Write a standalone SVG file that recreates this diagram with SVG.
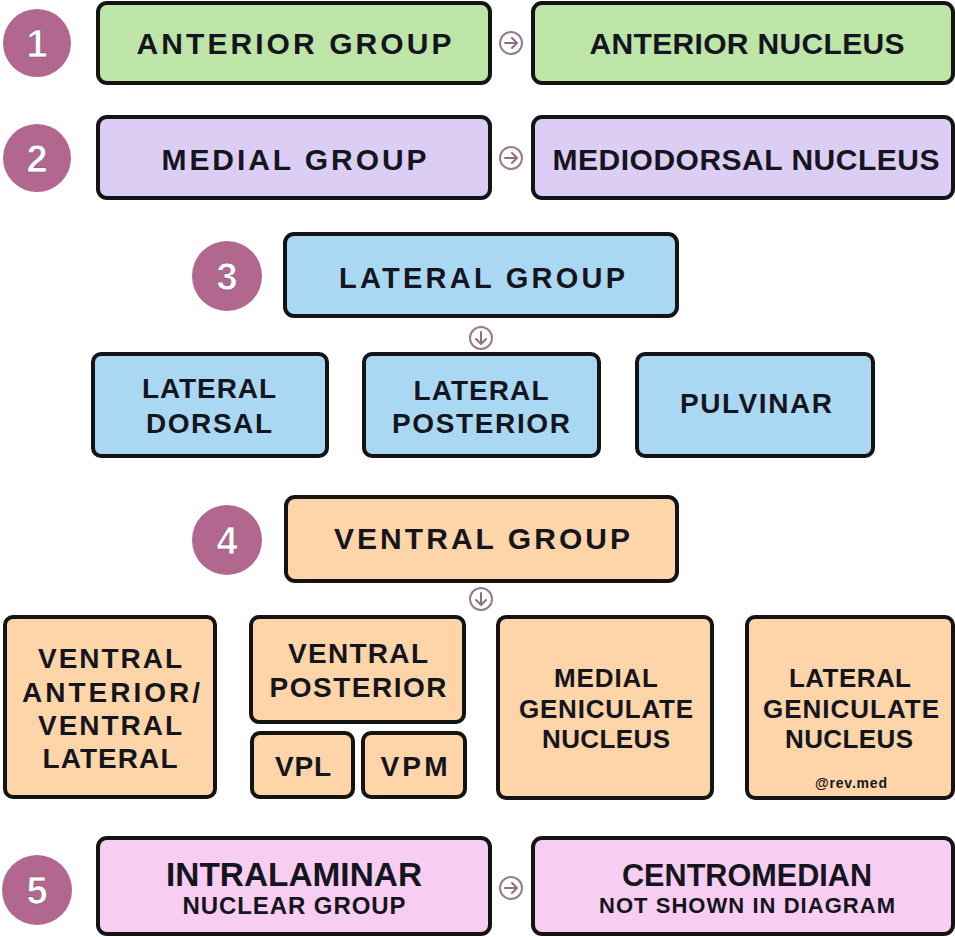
<svg xmlns="http://www.w3.org/2000/svg" width="955" height="937" viewBox="0 0 955 937">
<defs>
<style>
.box{stroke:#141414;stroke-width:4;}
.g{fill:#bde5a8}.p{fill:#dccdf5}.b{fill:#aad8f3}.o{fill:#fdd5a8}.k{fill:#f8cdf2}
.t{font-family:"Liberation Sans",Arial,sans-serif;font-weight:bold;fill:#151520;text-anchor:middle;}
.num{fill:#b2678f;}
.nt{font-family:"Liberation Sans",Arial,sans-serif;font-weight:bold;fill:#ffffff;text-anchor:middle;font-size:38px;stroke:#8a4a6c;stroke-width:0.6;}
.ic{fill:none;stroke:#9c7a8e;stroke-width:2;}
.ia{fill:none;stroke:#8e6e82;stroke-width:2;stroke-linecap:round;stroke-linejoin:round;}
</style>
</defs>
<rect width="955" height="937" fill="#ffffff"/>

<g id="num1"><circle class="num" cx="37" cy="43" r="34"/><text class="nt" x="37" y="57">1</text></g>
<g id="num2"><circle class="num" cx="37" cy="158" r="34"/><text class="nt" x="37" y="172">2</text></g>
<g id="num3"><circle class="num" cx="227" cy="276" r="35"/><text class="nt" x="227" y="290">3</text></g>
<g id="num4"><circle class="num" cx="227" cy="540" r="35"/><text class="nt" x="227" y="554">4</text></g>
<g id="num5"><circle class="num" cx="37" cy="890" r="35"/><text class="nt" x="37" y="904">5</text></g>

<g id="anterior-group"><rect class="box g" x="98" y="3" width="392" height="80" rx="9"/><text class="t" x="294" y="54" font-size="30" textLength="315">ANTERIOR GROUP</text></g>
<g id="anterior-nucleus"><rect class="box g" x="533" y="3" width="420" height="80" rx="9"/><text class="t" x="747" y="54" font-size="30" textLength="315">ANTERIOR NUCLEUS</text></g>

<g id="medial-group"><rect class="box p" x="98" y="117" width="392" height="81" rx="9"/><text class="t" x="294" y="170" font-size="30" textLength="265">MEDIAL GROUP</text></g>
<g id="mediodorsal-nucleus"><rect class="box p" x="533" y="117" width="420" height="81" rx="9"/><text class="t" x="746" y="170" font-size="30" textLength="387">MEDIODORSAL NUCLEUS</text></g>

<g id="lateral-group"><rect class="box b" x="285" y="234" width="392" height="82" rx="9"/><text class="t" x="482" y="288" font-size="29" textLength="286">LATERAL GROUP</text></g>
<g id="lateral-dorsal"><rect class="box b" x="93" y="354" width="234" height="102" rx="8"/>
<text class="t" x="209" y="398" font-size="28" textLength="134">LATERAL</text>
<text class="t" x="209" y="433" font-size="28" textLength="126">DORSAL</text></g>
<g id="lateral-posterior"><rect class="box b" x="364" y="354" width="235" height="102" rx="8"/>
<text class="t" x="481" y="400" font-size="28" textLength="135">LATERAL</text>
<text class="t" x="481" y="433" font-size="28" textLength="178">POSTERIOR</text></g>
<g id="pulvinar"><rect class="box b" x="637" y="354" width="236" height="102" rx="8"/>
<text class="t" x="756" y="413" font-size="28" textLength="152">PULVINAR</text></g>

<g id="ventral-group"><rect class="box o" x="286" y="497" width="391" height="84" rx="9"/><text class="t" x="482" y="549" font-size="30" textLength="296">VENTRAL GROUP</text></g>
<g id="va-vl"><rect class="box o" x="5" y="617" width="210" height="180" rx="8"/>
<text class="t" x="110" y="668" font-size="28" textLength="144">VENTRAL</text>
<text class="t" x="111" y="702" font-size="28" textLength="178">ANTERIOR/</text>
<text class="t" x="110" y="735" font-size="28" textLength="144">VENTRAL</text>
<text class="t" x="110" y="768" font-size="28" textLength="135">LATERAL</text></g>
<g id="ventral-posterior"><rect class="box o" x="251" y="617" width="213" height="105" rx="8"/>
<text class="t" x="358" y="663" font-size="28" textLength="140">VENTRAL</text>
<text class="t" x="358" y="697" font-size="28" textLength="177">POSTERIOR</text></g>
<g id="vpl"><rect class="box o" x="252" y="733" width="101" height="64" rx="8"/><text class="t" x="303" y="776" font-size="28" textLength="56">VPL</text></g>
<g id="vpm"><rect class="box o" x="363" y="733" width="102" height="64" rx="8"/><text class="t" x="414" y="776" font-size="28" textLength="67">VPM</text></g>
<g id="medial-geniculate"><rect class="box o" x="498" y="617" width="214" height="181" rx="8"/>
<text class="t" x="606" y="687" font-size="26" textLength="104">MEDIAL</text>
<text class="t" x="606" y="718" font-size="26" textLength="174">GENICULATE</text>
<text class="t" x="606" y="748" font-size="26" textLength="128">NUCLEUS</text></g>
<g id="lateral-geniculate"><rect class="box o" x="747" y="617" width="206" height="181" rx="8"/>
<text class="t" x="850" y="687" font-size="26" textLength="122">LATERAL</text>
<text class="t" x="851" y="718" font-size="26" textLength="176">GENICULATE</text>
<text class="t" x="849" y="748" font-size="26" textLength="128">NUCLEUS</text>
<text class="t" x="851" y="788" font-size="14" textLength="72">@rev.med</text></g>

<g id="intralaminar"><rect class="box k" x="98" y="838" width="392" height="96" rx="9"/>
<text class="t" x="294" y="886" font-size="33" textLength="256" lengthAdjust="spacingAndGlyphs">INTRALAMINAR</text>
<text class="t" x="294" y="914" font-size="24" textLength="223">NUCLEAR GROUP</text></g>
<g id="centromedian"><rect class="box k" x="533" y="838" width="420" height="96" rx="9"/>
<text class="t" x="747" y="886" font-size="31" textLength="250" lengthAdjust="spacingAndGlyphs">CENTROMEDIAN</text>
<text class="t" x="747" y="913" font-size="22" textLength="296">NOT SHOWN IN DIAGRAM</text></g>

<g id="connectors">
<g><circle class="ic" cx="511" cy="43" r="11"/><path class="ia" d="M505 43 H517 M512 38 L517 43 L512 48"/></g>
<g><circle class="ic" cx="511" cy="158" r="11"/><path class="ia" d="M505 158 H517 M512 153 L517 158 L512 163"/></g>
<g><circle class="ic" cx="481" cy="338" r="11"/><path class="ia" d="M481 332 V344 M476 339 L481 344 L486 339"/></g>
<g><circle class="ic" cx="481" cy="599" r="11"/><path class="ia" d="M481 593 V605 M476 600 L481 605 L486 600"/></g>
<g><circle class="ic" cx="511" cy="888" r="11"/><path class="ia" d="M505 888 H517 M512 883 L517 888 L512 893"/></g>
</g>
</svg>
